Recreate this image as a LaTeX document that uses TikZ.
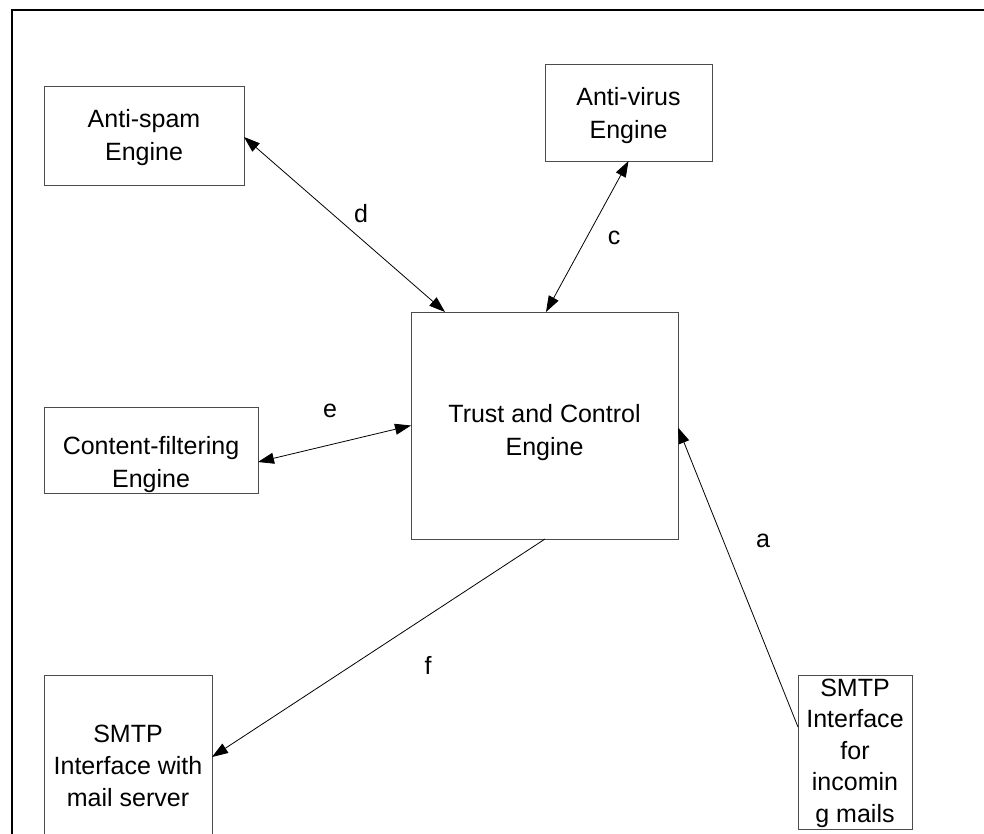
\documentclass[tikz,border=0pt]{standalone}
\usepackage{fontspec}
\setmainfont{Liberation Sans}
\usetikzlibrary{arrows.meta}
\begin{document}
\begin{tikzpicture}[x=1pt,y=-1pt,
  box/.style={draw=black!70, line width=0.9pt, inner sep=0pt, outer sep=0pt},
  txt/.style={align=center, inner sep=0pt, font=\fontsize{25}{32.5}\selectfont},
  lbl/.style={inner sep=0pt, font=\fontsize{25}{30}\selectfont},
  link/.style={line width=0.8pt, -{Triangle[length=16pt,width=11pt]}},
  both/.style={line width=0.8pt, {Triangle[length=16pt,width=11pt]}-{Triangle[length=16pt,width=11pt]}}]
\useasboundingbox (0,0) rectangle (984,834);
\clip (0,0) rectangle (984,834);

% outer frame
\draw[line width=1.2pt] (12,834) -- (12,10) -- (984,10);

% engine boxes
\node[box, minimum width=200pt, minimum height=99pt] (spam) at (144,135.5) {};
\node[box, minimum width=167pt, minimum height=97pt] (virus) at (628.5,112.5) {};
\node[box, minimum width=267pt, minimum height=227pt] (trust) at (544.5,425.5) {};
\node[box, minimum width=214pt, minimum height=86pt] (content) at (151,450) {};
\node[box, minimum width=168pt, minimum height=185pt] (mailsrv) at (128,767.5) {};
\node[box, minimum width=114pt, minimum height=154pt] (incoming) at (855,752) {};

% box texts
\node[txt] (spamtxt) at (144,137.5) {Anti-spam\\Engine};
\node[txt] (virustxt) at (628.5,115.5) {Anti-virus\\Engine};
\node[txt] (trusttxt) at (544.5,432.5) {Trust and Control\\Engine};
\node[txt] (contenttxt) at (151,464.5) {Content-filtering\\Engine};
\node[txt, font=\fontsize{25}{32}\selectfont] (mailsrvtxt) at (128,766) {SMTP\\Interface with\\mail server};
\node[txt, font=\fontsize{25}{31.5}\selectfont] (incomingtxt) at (855,753) {SMTP\\Interface\\for\\incomin\\g mails};

% connectors
\draw[both] ([yshift=-1.5pt]spam.east) -- ([xshift=34pt]trust.north west);
\draw[both] ([xshift=135pt]trust.north west) -- (virus.south);
\draw[both] ([yshift=-12pt]content.east) -- (trust.west);
\draw[link] ([yshift=25pt]incoming.west) -- ([yshift=-2pt]trust.east);
\draw[link] ([xshift=134pt]trust.south west) -- ([yshift=10.5pt]mailsrv.east);

% connector labels
\node[lbl] (ld) at (361,214) {d};
\node[lbl] (lc) at (614,238) {c};
\node[lbl] (le) at (330,411) {e};
\node[lbl] (la) at (763,541) {a};
\node[lbl] (lf) at (428,665) {f};
\end{tikzpicture}
\end{document}
